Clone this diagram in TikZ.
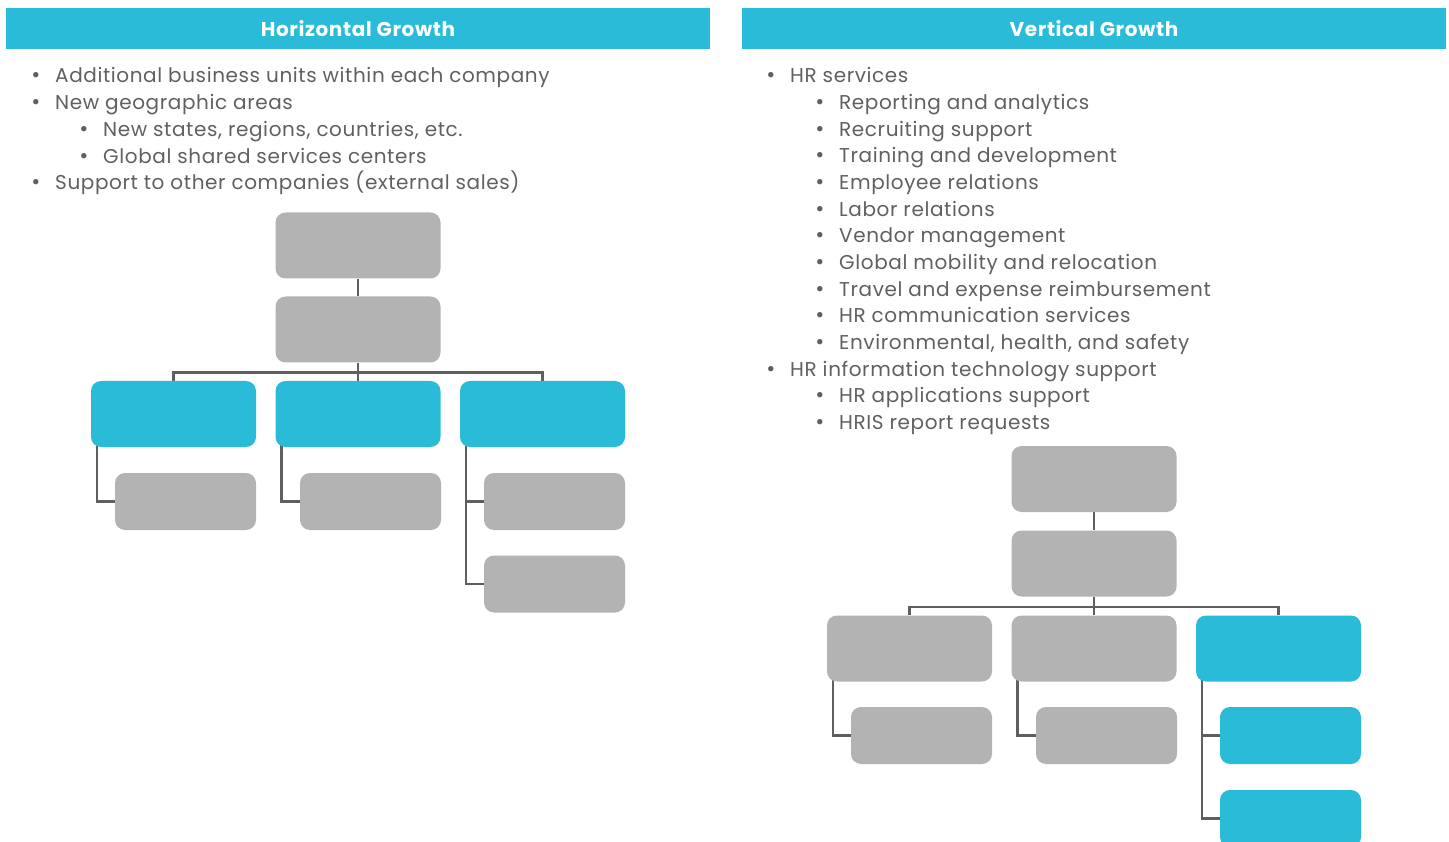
\documentclass[tikz,border=0pt]{standalone}
\usepackage{fontspec}
\setmainfont{Poppins}
\usetikzlibrary{backgrounds}
\definecolor{hdrblue}{HTML}{29BBD7}
\definecolor{boxgray}{HTML}{B3B3B3}
\definecolor{linegray}{HTML}{5F5F5F}
\definecolor{txtgray}{HTML}{606060}
\begin{document}
\begin{tikzpicture}[x=1pt,y=-1pt,
  hdr/.style={fill=hdrblue, draw=none, inner sep=0pt, minimum width=704pt, minimum height=41pt,
    text=white, font=\bfseries\fontsize{20}{24}\selectfont\addfontfeature{LetterSpace=3}},
  orgbox/.style={draw=none, inner sep=0pt, rounded corners=10pt},
  gbox/.style={orgbox, fill=boxgray},
  bbox/.style={orgbox, fill=hdrblue},
  wide/.style={minimum width=165pt, minimum height=66pt},
  small/.style={minimum width=141pt, minimum height=57pt},
  conn/.style={draw=linegray, line width=2.5pt},
  item/.style={anchor=base west, inner sep=0pt, text=txtgray,
    font=\fontsize{20}{24}\selectfont\addfontfeature{LetterSpace=3}},
  dot/.style={anchor=base, inner sep=0pt, text=txtgray, font=\fontsize{22}{24}\selectfont}]
\useasboundingbox (0,0) rectangle (1449,842);
\clip (0,0) rectangle (1449,842);

% headers
\node[hdr] (hh) at (358,28.5) {Horizontal Growth};
\node[hdr] (vh) at (1094,28.5) {Vertical Growth};

% horizontal growth list
\foreach \lv/\t [count=\i] in {1/{Additional business units within each company},
    1/{New geographic areas},
    2/{New states, regions, countries, etc.},
    2/{Global shared services centers},
    1/{Support to other companies (external sales)}}{
  \pgfmathsetmacro{\yy}{83+26.7*(\i-1)}
  \pgfmathsetmacro{\tx}{\lv==1 ? 55 : 103}
  \node[dot] (hb\i) at (\tx-19,\yy) {•};
  \node[item] (ht\i) at (\tx,\yy) {\t};
}

% vertical growth list
\foreach \lv/\t [count=\i] in {1/{HR services},
    2/{Reporting and analytics},
    2/{Recruiting support},
    2/{Training and development},
    2/{Employee relations},
    2/{Labor relations},
    2/{Vendor management},
    2/{Global mobility and relocation},
    2/{Travel and expense reimbursement},
    2/{HR communication services},
    2/{Environmental, health, and safety},
    1/{HR information technology support},
    2/{HR applications support},
    2/{HRIS report requests}}{
  \pgfmathsetmacro{\yy}{83+26.65*(\i-1)}
  \pgfmathsetmacro{\tx}{\lv==1 ? 790 : 839}
  \node[dot] (vb\i) at (\tx-19,\yy) {•};
  \node[item] (vt\i) at (\tx,\yy) {\t};
}

% horizontal growth chart
\node[gbox,wide] (ha) at (358,245.5) {};
\node[gbox,wide] (hm) at (358,329.5) {};
\node[bbox,wide] (hl) at (173.5,414) {};
\node[bbox,wide] (hc) at (358,414) {};
\node[bbox,wide] (hr) at (542.5,414) {};
\node[gbox,small] (hl1) at (185.5,501.5) {};
\node[gbox,small] (hc1) at (370.5,501.5) {};
\node[gbox,small] (hr1) at (554.5,501.5) {};
\node[gbox,small] (hr2) at (554.5,584) {};

% vertical growth chart
\node[gbox,wide] (va) at (1094,479) {};
\node[gbox,wide] (vm) at (1094,563.5) {};
\node[gbox,wide] (vl) at (909.5,648.5) {};
\node[gbox,wide] (vc) at (1094,648.5) {};
\node[bbox,wide] (vr) at (1278.5,648.5) {};
\node[gbox,small] (vl1) at (921.5,735.5) {};
\node[gbox,small] (vc1) at (1106.5,735.5) {};
\node[bbox,small] (vr1) at (1290.5,735.5) {};
\node[bbox,small] (vr2) at (1290.5,818.5) {};

\begin{scope}[on background layer]
  % left tree
  \draw[conn] (ha.south) -- (hm.north);
  \draw[conn] (hm.south) -- (hc.north);
  \draw[conn] (hl.north) -- ([yshift=8.5pt]hl.north) -| (hr.north);
  \draw[conn] ([xshift=6pt,yshift=12pt]hl.south west) |- (hl1.west);
  \draw[conn] ([xshift=6pt,yshift=12pt]hc.south west) |- (hc1.west);
  \draw[conn] ([xshift=6pt,yshift=12pt]hr.south west) |- (hr2.west);
  \draw[conn] ([xshift=6pt]hr.south west |- hr1.west) -- (hr1.west);
  % right tree
  \draw[conn] (va.south) -- (vm.north);
  \draw[conn] (vm.south) -- (vc.north);
  \draw[conn] (vl.north) -- ([yshift=8.5pt]vl.north) -| (vr.north);
  \draw[conn] ([xshift=6pt,yshift=12pt]vl.south west) |- (vl1.west);
  \draw[conn] ([xshift=6pt,yshift=12pt]vc.south west) |- (vc1.west);
  \draw[conn] ([xshift=6pt,yshift=12pt]vr.south west) |- (vr2.west);
  \draw[conn] ([xshift=6pt]vr.south west |- vr1.west) -- (vr1.west);
\end{scope}
\end{tikzpicture}
\end{document}
